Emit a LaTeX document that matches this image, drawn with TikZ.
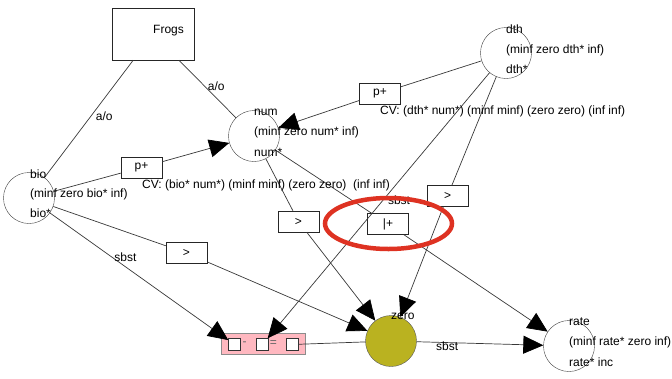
\documentclass[tikz,border=0pt]{standalone}
\usepackage{fontspec}
\setmainfont{Liberation Sans}
\usetikzlibrary{arrows.meta}
\definecolor{zerofill}{RGB}{186,178,32}
\definecolor{eqpink}{RGB}{255,184,192}
\definecolor{hlred}{RGB}{222,50,34}
\begin{document}
\begin{tikzpicture}[x=1pt,y=-1pt,
  font=\fontsize{12}{14}\selectfont,
  place/.style={circle, draw=black!75, minimum size=51pt, inner sep=0pt},
  opbox/.style={rectangle, draw=black!85, fill=white, minimum width=41pt, minimum height=21pt, inner sep=0pt},
  sqbox/.style={rectangle, draw=black!80, fill=white, minimum size=12pt, inner sep=0pt},
  txt/.style={anchor=base west, inner sep=0pt},
  lbl/.style={inner sep=0pt},
  conn/.style={draw=black!78, line width=0.7pt},
  arr/.style={conn, -{Triangle[length=20pt,width=18pt,color=black]}},
  hl/.style={draw=hlred, line width=4.5pt}
]
\useasboundingbox (0,0) rectangle (672,378);

% places
\node[place] (bio) at (29,198) {};
\node[place] (num) at (254,136) {};
\node[place] (dth) at (506,53) {};
\node[place] (rate) at (569,346) {};
\node[place, fill=zerofill, draw=black!65] (zero) at (391,341) {};

% frogs container
\node[rectangle, draw=black!85, minimum width=82pt, minimum height=52pt, inner sep=0pt] (frogs) at (153,34) {};
\node[txt] (frogs-t) at (153,33) {Frogs};

% operator boxes
\node[opbox] (pA) at (141.5,167.5) {p+};
\node[opbox] (pB) at (380,93.5) {p+};
\node[opbox] (gA) at (298.5,221.5) {>};
\node[opbox] (gB) at (186.5,253) {>};
\node[opbox] (gC) at (447.5,196) {>};
\node[opbox] (pl) at (388,224) {|+};

% equation block
\node[rectangle, draw=black!45, fill=eqpink, minimum width=84pt, minimum height=21pt, inner sep=0pt] (eq) at (263,343.5) {};
\node[sqbox] (s1) at (234.5,344.5) {};
\node[sqbox] (s2) at (262.5,344.5) {};
\node[sqbox] (s3) at (292,344.5) {};
\node[lbl, text=black!60] (minus) at (244.5,344) {-};
\node[lbl, text=black!60] (equals) at (273.5,344) {=};

% connectors
\draw[conn] (frogs) -- node[lbl, pos=0.48, anchor=west, xshift=5pt] {a/o} (bio);
\draw[conn] (frogs) -- node[lbl, pos=0.45, anchor=west, xshift=3pt] {a/o} (num);
\draw[conn] (bio) -- (pA);
\draw[arr] (pA) -- (num);
\draw[conn] (dth) -- (pB);
\draw[arr] (pB) -- (num);
\draw[conn] (num) -- (gA);
\draw[arr] (gA) -- (zero);
\draw[conn] (bio) -- (gB);
\draw[arr] (gB) -- (zero);
\draw[conn] (dth) -- (gC);
\draw[arr] (gC) -- (zero);
\draw[conn] (num) -- (pl);
\draw[arr] (pl) -- (rate);
\draw[arr] (bio) -- node[lbl, pos=0.423, yshift=10pt] {sbst} (s1);
\draw[arr] (dth) -- node[lbl, pos=0.479, xshift=15.8pt] {sbst} (s2);
\draw[conn] (s3) -- (zero);
\draw[arr] (zero) -- node[lbl, pos=0.24, yshift=-4pt] {sbst} (rate);

% constraint labels
\node[txt] (cvA) at (142,188) {CV: (bio* num*) (minf minf) (zero zero)\ \ (inf inf)};
\node[txt] (cvB) at (380,114) {CV: (dth* num*) (minf minf) (zero zero) (inf inf)};

% place texts
\node[txt] (bio-n) at (30,178) {bio};
\node[txt] (bio-r) at (30,197.5) {(minf zero bio* inf)};
\node[txt] (bio-v) at (30,217) {bio*};
\node[txt] (num-n) at (254,115) {num};
\node[txt] (num-r) at (254,135.5) {(minf zero num* inf)};
\node[txt] (num-v) at (254,156) {num*};
\node[txt] (dth-n) at (506,33) {dth};
\node[txt] (dth-r) at (506,53) {(minf zero dth* inf)};
\node[txt] (dth-v) at (506,73) {dth*};
\node[txt] (rate-n) at (569,325) {rate};
\node[txt] (rate-r) at (569,345) {(minf rate* zero inf)};
\node[txt] (rate-v) at (569,366) {rate* inc};
\node[txt] (zero-n) at (391,319) {zero};

% highlight ring
\draw[hl] (388.5,223.5) ellipse [x radius=63.5pt, y radius=25.5pt];
\end{tikzpicture}
\end{document}
